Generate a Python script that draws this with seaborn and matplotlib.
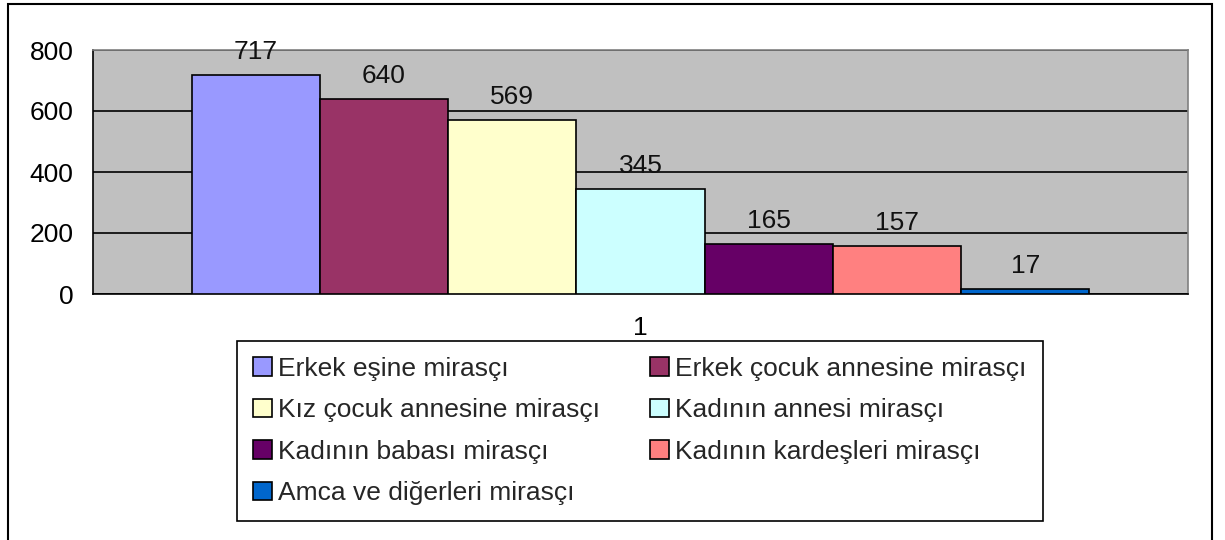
import numpy as np
import pandas as pd
import seaborn as sns
import matplotlib.pyplot as plt
from matplotlib.patches import Patch, Rectangle

labels = ["Erkek eşine mirasçı", "Erkek çocuk annesine mirasçı",
          "Kız çocuk annesine mirasçı", "Kadının annesi mirasçı",
          "Kadının babası mirasçı", "Kadının kardeşleri mirasçı",
          "Amca ve diğerleri mirasçı"]
values = [717, 640, 569, 345, 165, 157, 17]
category = ["1"] * len(values)
colors = ["#9999FF", "#993366", "#FFFFCC", "#CCFFFF", "#660066", "#FF8080", "#0066CC"]

df = pd.DataFrame({"cat": category, "value": values, "label": labels})

sns.set_style("white")
plt.rcParams['font.family'] = ['Liberation Sans', 'DejaVu Sans']
fs = 19

fig = plt.figure(figsize=(12.25, 5.4), dpi=100)
ax = fig.add_axes([93/1225, 1 - 294/540, 1095/1225, 244/540])
ax.set_facecolor("#C0C0C0")

sns.barplot(data=df, x="cat", y="value", hue="label", hue_order=labels,
            palette=colors, width=0.82, edgecolor="black", linewidth=1.2,
            saturation=1, legend=False, ax=ax, zorder=3)

for cont in ax.containers:
    ax.bar_label(cont, padding=8, fontsize=fs, color="#111111")

ax.set_xlim(-0.5, 0.5)
ax.set_ylim(0, 800)
ax.set_yticks([0, 200, 400, 600, 800])
ax.yaxis.grid(True, color="black", linewidth=1.2, zorder=0)
ax.set_axisbelow(True)
ax.set_xlabel("")
ax.set_ylabel("")
ax.tick_params(axis="y", labelsize=fs, direction="in", length=8, width=1.2, pad=14, colors="black")
ax.tick_params(axis="x", labelsize=fs, length=0, pad=16, colors="black")
for s in ["left", "bottom"]:
    ax.spines[s].set_color("black")
    ax.spines[s].set_linewidth(1.2)
for s in ["top", "right"]:
    ax.spines[s].set_color("#808080")
    ax.spines[s].set_linewidth(1.2)

handles = [Patch(facecolor=c, edgecolor="black", linewidth=1.2) for c in colors]
order = [0, 2, 4, 6, 1, 3, 5]
leg = fig.legend([handles[i] for i in order], [labels[i] for i in order],
                 ncol=2, loc="upper center",
                 bbox_to_anchor=(640/1225, 1 - 341/540),
                 borderaxespad=0, fontsize=fs,
                 handlelength=0.7, handleheight=0.7, handletextpad=0.25,
                 labelspacing=0.66, columnspacing=1.9, borderpad=0.6,
                 frameon=True, fancybox=False, edgecolor="black", framealpha=1)
leg.get_frame().set_linewidth(1.2)

fig.patches.append(Rectangle((8/1225, -0.02), 1204/1225, 1.02 - 4/540, transform=fig.transFigure,
                             fill=False, edgecolor="black", linewidth=1.5))

fig.savefig("out.png", dpi=100, facecolor="white")
